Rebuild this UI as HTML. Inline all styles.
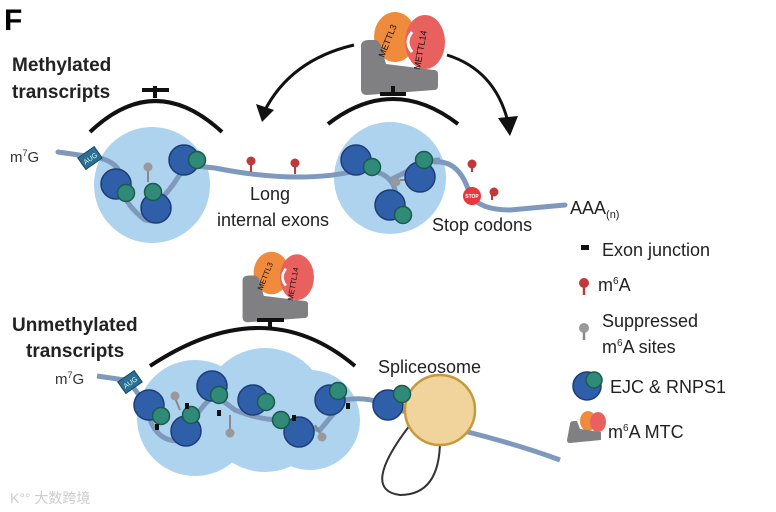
<!DOCTYPE html>
<html><head><meta charset="utf-8"><style>
html,body{margin:0;padding:0;background:#fff;}
svg{display:block;font-family:"Liberation Sans",Arial,sans-serif;}
</style></head><body>
<svg width="776" height="512" viewBox="0 0 776 512" xmlns="http://www.w3.org/2000/svg">
<defs>
<g id="mtc">
  <ellipse cx="37" cy="27" rx="21" ry="25" fill="#f08a3c"/>
  <ellipse cx="67" cy="32" rx="20" ry="27" fill="#e9615f"/>
  <path d="M54 22 q-8 10 0 20" stroke="#fff" stroke-width="3" fill="none"/>
  <path d="M3 36 q0-6 8-6 h6 q4 0 6 6 l5 18 l48 6 q4 0 4 4 v12 q0 4-4 4 l-67 5 q-6 0-6-6 z" fill="#808083"/>
  <text x="26" y="48" font-size="9" transform="rotate(-68 26 48)" fill="#111">METTL3</text>
  <text x="62" y="60" font-size="9" transform="rotate(-80 62 60)" fill="#111">METTL14</text>
</g>
<g id="ejc"><circle r="15" fill="#2f5fa8" stroke="#1c3c78" stroke-width="1.5"/></g>
</defs>

<text x="4" y="30" font-size="30" font-weight="bold">F</text>
<text x="12" y="71" font-size="19" font-weight="bold" fill="#222">Methylated</text>
<text x="12" y="98" font-size="19" font-weight="bold" fill="#222">transcripts</text>

<!-- top MTC -->
<use href="#mtc" x="358" y="10"/>
<path d="M393 86 v10 M380 94 h26" stroke="#111" stroke-width="4"/>
<path d="M328 124 Q393 74 458 124" stroke="#111" stroke-width="4" fill="none"/>
<path d="M155 86 v12 M142 90 h27" stroke="#111" stroke-width="4"/>
<path d="M90 132 Q155 70 222 132" stroke="#111" stroke-width="4" fill="none"/>
<!-- arrows -->
<path d="M354 45 Q290 60 264 112" stroke="#111" stroke-width="3" fill="none"/>
<path d="M256 104 L262 122 L274 110 z" fill="#111"/>
<path d="M447 55 Q495 70 508 122" stroke="#111" stroke-width="3" fill="none"/>
<path d="M498 118 L510 136 L518 116 z" fill="#111"/>

<!-- top bubbles -->
<circle cx="152" cy="185" r="58" fill="#aed3ee"/>
<circle cx="390" cy="178" r="56" fill="#aed3ee"/>
<!-- top line -->
<path d="M58 152 L100 158 Q125 165 120 185 Q125 205 145 220 Q165 225 160 200 Q175 185 185 165 L215 168 Q300 185 360 170 Q390 170 395 190 Q400 210 400 215 M435 162 Q460 160 470 195 Q480 210 510 210 L565 205" stroke="#7f99bd" stroke-width="5" fill="none" stroke-linecap="round"/>
<path d="M390 180 L410 170 Q425 160 440 160" stroke="#7f99bd" stroke-width="5" fill="none"/>
<path d="M148 182 v-12 M400 180 h8" stroke="#888" stroke-width="2"/>
<circle cx="148" cy="167" r="4.5" fill="#999"/>
<circle cx="396" cy="182" r="4.5" fill="#999"/>
<g stroke="#c0393a" stroke-width="2">
<path d="M251 172 v-10 M295 174 v-10 M472 172 v-8 M492 200 v-8"/>
</g>
<circle cx="251" cy="161" r="4.5" fill="#c0393a"/><circle cx="295" cy="163" r="4.5" fill="#c0393a"/>
<circle cx="472" cy="164" r="4.5" fill="#c0393a"/><circle cx="494" cy="192" r="4.5" fill="#c0393a"/>
<circle cx="472" cy="196" r="9" fill="#e9383c"/><text x="472" y="198" font-size="5" fill="#fff" text-anchor="middle" font-weight="bold">STOP</text>
<g transform="translate(90,158) rotate(-35)"><rect x="-10" y="-7" width="20" height="14" fill="#2d6e94" stroke="#174a66"/><text x="0" y="3" font-size="7" fill="#cfe" text-anchor="middle">AUG</text></g>
<use href="#ejc" x="116" y="184"/><circle cx="126" cy="193" r="8.5" fill="#2f8a78" stroke="#1c5a4e" stroke-width="1.5"/>
<use href="#ejc" x="156" y="208"/><circle cx="153" cy="192" r="8.5" fill="#2f8a78" stroke="#1c5a4e" stroke-width="1.5"/>
<use href="#ejc" x="184" y="160"/><circle cx="197" cy="160" r="8.5" fill="#2f8a78" stroke="#1c5a4e" stroke-width="1.5"/>
<use href="#ejc" x="356" y="160"/><circle cx="372" cy="167" r="8.5" fill="#2f8a78" stroke="#1c5a4e" stroke-width="1.5"/>
<use href="#ejc" x="420" y="177"/><circle cx="424" cy="160" r="8.5" fill="#2f8a78" stroke="#1c5a4e" stroke-width="1.5"/>
<use href="#ejc" x="390" y="205"/><circle cx="403" cy="215" r="8.5" fill="#2f8a78" stroke="#1c5a4e" stroke-width="1.5"/>

<text x="10" y="162" font-size="15" fill="#333">m<tspan font-size="9" dy="-6">7</tspan><tspan dy="6">G</tspan></text>
<text x="270" y="200" font-size="18" fill="#222" text-anchor="middle">Long</text>
<text x="273" y="226" font-size="18" fill="#222" text-anchor="middle">internal exons</text>
<text x="432" y="231" font-size="18" fill="#222">Stop codons</text>
<text x="570" y="214" font-size="18" fill="#222">AAA<tspan font-size="11" dy="4">(n)</tspan></text>

<!-- bottom -->
<use href="#mtc" transform="translate(240,250) scale(0.85)"/>
<path d="M270 318 v12 M257 320 h27" stroke="#111" stroke-width="4"/>
<path d="M150 366 Q265 290 355 366" stroke="#111" stroke-width="4" fill="none"/>
<text x="12" y="331" font-size="19" font-weight="bold" fill="#222">Unmethylated</text>
<text x="26" y="357" font-size="19" font-weight="bold" fill="#222">transcripts</text>
<text x="378" y="373" font-size="18" fill="#222">Spliceosome</text>
<text x="55" y="384" font-size="15" fill="#333">m<tspan font-size="9" dy="-6">7</tspan><tspan dy="6">G</tspan></text>

<g fill="#aed3ee">
<circle cx="195" cy="418" r="58"/><circle cx="265" cy="410" r="62"/><circle cx="310" cy="420" r="50"/>
</g>
<path d="M97 376 L125 380 Q140 390 150 420 Q160 445 185 440 Q195 410 215 395 L235 410 Q260 420 280 420 Q300 425 320 430 L345 400 Q370 395 400 410 Q430 420 460 430 Q520 445 560 460" stroke="#7f99bd" stroke-width="5" fill="none"/>
<path d="M410 425 Q360 490 400 495 Q440 495 440 440" stroke="#333" stroke-width="2" fill="none"/>
<circle cx="440" cy="410" r="35" fill="#f0d49b" stroke="#c49a3d" stroke-width="2.5"/>
<g transform="translate(130,382) rotate(-35)"><rect x="-10" y="-7" width="20" height="14" fill="#2d6e94" stroke="#174a66"/><text x="0" y="3" font-size="7" fill="#cfe" text-anchor="middle">AUG</text></g>
<g stroke="#888" stroke-width="2"><path d="M180 410 l-5-12 M230 415 v18 M315 425 l6 10"/></g>
<circle cx="175" cy="396" r="4.5" fill="#999"/><circle cx="230" cy="433" r="4.5" fill="#999"/><circle cx="322" cy="437" r="4.5" fill="#999"/>
<use href="#ejc" x="149" y="405"/><circle cx="161" cy="416" r="8.5" fill="#2f8a78" stroke="#1c5a4e" stroke-width="1.5"/>
<use href="#ejc" x="186" y="431"/><circle cx="191" cy="415" r="8.5" fill="#2f8a78" stroke="#1c5a4e" stroke-width="1.5"/>
<use href="#ejc" x="212" y="386"/><circle cx="219" cy="395" r="8.5" fill="#2f8a78" stroke="#1c5a4e" stroke-width="1.5"/>
<use href="#ejc" x="253" y="400"/><circle cx="266" cy="402" r="8.5" fill="#2f8a78" stroke="#1c5a4e" stroke-width="1.5"/>
<use href="#ejc" x="299" y="432"/><circle cx="281" cy="420" r="8.5" fill="#2f8a78" stroke="#1c5a4e" stroke-width="1.5"/>
<use href="#ejc" x="330" y="400"/><circle cx="338" cy="391" r="8.5" fill="#2f8a78" stroke="#1c5a4e" stroke-width="1.5"/>
<use href="#ejc" x="388" y="405"/><circle cx="402" cy="394" r="8.5" fill="#2f8a78" stroke="#1c5a4e" stroke-width="1.5"/>
<g fill="#111"><rect x="185" y="403" width="4" height="6"/><rect x="217" y="410" width="4" height="6"/><rect x="292" y="415" width="4" height="6"/><rect x="346" y="403" width="4" height="6"/><rect x="155" y="424" width="4" height="6"/></g>

<text x="10" y="503" font-size="14" fill="#ccc">K°° 大数跨境</text>

<!-- legend -->
<rect x="581" y="245" width="8" height="5" fill="#111"/>
<text x="602" y="256" font-size="18" fill="#222">Exon junction</text>
<path d="M584 285 v10" stroke="#c0393a" stroke-width="2.5"/><circle cx="584" cy="283" r="5" fill="#c0393a"/>
<text x="598" y="291" font-size="18" fill="#222">m<tspan font-size="10" dy="-7">6</tspan><tspan dy="7">A</tspan></text>
<path d="M584 330 v10" stroke="#888" stroke-width="2.5"/><circle cx="584" cy="328" r="5" fill="#999"/>
<text x="602" y="327" font-size="18" fill="#222">Suppressed</text>
<text x="602" y="353" font-size="18" fill="#222">m<tspan font-size="10" dy="-7">6</tspan><tspan dy="7">A sites</tspan></text>
<circle cx="587" cy="386" r="14" fill="#2f5fa8" stroke="#1c3c78" stroke-width="1.5"/><circle cx="594" cy="380" r="8" fill="#2f8a78" stroke="#1c5a4e" stroke-width="1.5"/>
<text x="610" y="393" font-size="18" fill="#222">EJC &amp; RNPS1</text>
<ellipse cx="588" cy="421" rx="8" ry="10" fill="#f08a3c"/><ellipse cx="598" cy="422" rx="8" ry="10" fill="#e9615f"/>
<path d="M570 424 q0-3 4-3 h3 l3 8 l21 3 v8 l-31 3 q-3 0-3-3z" fill="#808083"/>
<text x="608" y="438" font-size="18" fill="#222">m<tspan font-size="10" dy="-7">6</tspan><tspan dy="7">A MTC</tspan></text>
</svg>
</body></html>
